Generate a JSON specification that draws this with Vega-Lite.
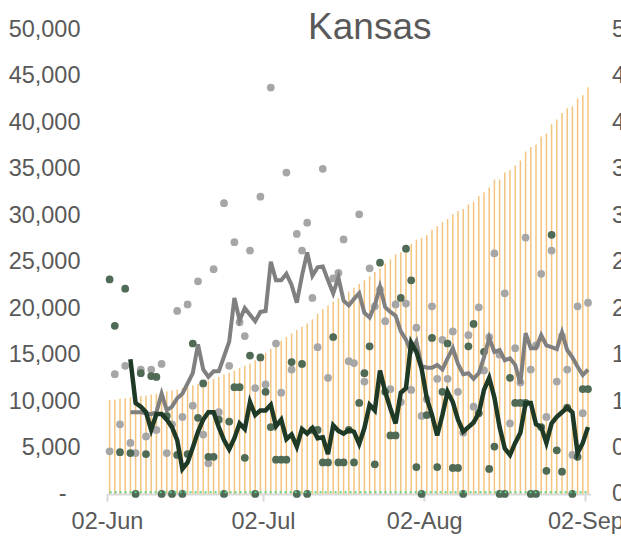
{
"$schema": "https://vega.github.io/schema/vega-lite/v6.json",
"width": 483.6,
"height": 464.5,
"autosize": {"type": "none"},
"padding": {"left": 107, "top": 29.5, "right": 40, "bottom": 43},
"background": "white",
"config": {"view": {"stroke": null}, "font": "Liberation Sans", "axis": {"labelFont": "Liberation Sans", "labelColor": "#595959", "labelFontSize": 23.5, "grid": false, "title": null}},
"title": {"text": "Kansas", "fontSize": 37, "font": "Liberation Sans", "fontWeight": "normal", "color": "#595959", "anchor": "middle", "frame": "group", "baseline": "alphabetic", "offset": 0, "dx": 21, "dy": 58},
"data": {"values": [
{"date":"2020-06-02","total":10100,"tests":4600,"tests_avg":null,"cases":23100,"cases_avg":null,"low":200},
{"date":"2020-06-03","total":10150,"tests":12900,"tests_avg":null,"cases":18100,"cases_avg":null,"low":200},
{"date":"2020-06-04","total":10250,"tests":7500,"tests_avg":null,"cases":4500,"cases_avg":null,"low":200},
{"date":"2020-06-05","total":10300,"tests":13800,"tests_avg":null,"cases":22100,"cases_avg":null,"low":200},
{"date":"2020-06-06","total":10400,"tests":5500,"tests_avg":8800,"cases":4400,"cases_avg":14500,"low":200},
{"date":"2020-06-07","total":10450,"tests":4400,"tests_avg":8800,"cases":0,"cases_avg":9800,"low":200},
{"date":"2020-06-08","total":10550,"tests":13400,"tests_avg":8800,"cases":13000,"cases_avg":9400,"low":200},
{"date":"2020-06-09","total":10600,"tests":6200,"tests_avg":8700,"cases":4300,"cases_avg":8800,"low":200},
{"date":"2020-06-10","total":10700,"tests":13400,"tests_avg":8600,"cases":12700,"cases_avg":6900,"low":200},
{"date":"2020-06-11","total":10800,"tests":6900,"tests_avg":8800,"cases":12600,"cases_avg":8600,"low":200},
{"date":"2020-06-12","total":10900,"tests":14000,"tests_avg":10800,"cases":0,"cases_avg":8600,"low":200},
{"date":"2020-06-13","total":11050,"tests":4400,"tests_avg":9000,"cases":8400,"cases_avg":8000,"low":200},
{"date":"2020-06-14","total":11150,"tests":7500,"tests_avg":9400,"cases":0,"cases_avg":7200,"low":200},
{"date":"2020-06-15","total":11250,"tests":19700,"tests_avg":10300,"cases":4200,"cases_avg":5800,"low":200},
{"date":"2020-06-16","total":11400,"tests":8300,"tests_avg":10800,"cases":0,"cases_avg":2700,"low":200},
{"date":"2020-06-17","total":11550,"tests":20400,"tests_avg":11900,"cases":4300,"cases_avg":3400,"low":200},
{"date":"2020-06-18","total":11700,"tests":9500,"tests_avg":13000,"cases":16200,"cases_avg":5000,"low":200},
{"date":"2020-06-19","total":11850,"tests":22900,"tests_avg":16100,"cases":8200,"cases_avg":6700,"low":200},
{"date":"2020-06-20","total":12000,"tests":6400,"tests_avg":13400,"cases":11900,"cases_avg":8000,"low":200},
{"date":"2020-06-21","total":12200,"tests":3300,"tests_avg":12600,"cases":4000,"cases_avg":8800,"low":200},
{"date":"2020-06-22","total":12400,"tests":24200,"tests_avg":13200,"cases":4000,"cases_avg":8800,"low":200},
{"date":"2020-06-23","total":12600,"tests":8800,"tests_avg":13200,"cases":8000,"cases_avg":7200,"low":200},
{"date":"2020-06-24","total":12850,"tests":31300,"tests_avg":14800,"cases":0,"cases_avg":5800,"low":200},
{"date":"2020-06-25","total":13050,"tests":13800,"tests_avg":16400,"cases":7800,"cases_avg":4800,"low":200},
{"date":"2020-06-26","total":13300,"tests":27100,"tests_avg":21100,"cases":11500,"cases_avg":6000,"low":200},
{"date":"2020-06-27","total":13550,"tests":18500,"tests_avg":18700,"cases":11500,"cases_avg":7600,"low":200},
{"date":"2020-06-28","total":13800,"tests":17000,"tests_avg":20000,"cases":3900,"cases_avg":7000,"low":200},
{"date":"2020-06-29","total":14050,"tests":26200,"tests_avg":19300,"cases":14900,"cases_avg":9900,"low":200},
{"date":"2020-06-30","total":14400,"tests":11400,"tests_avg":18600,"cases":0,"cases_avg":8500,"low":200},
{"date":"2020-07-01","total":14800,"tests":32000,"tests_avg":19600,"cases":14700,"cases_avg":9000,"low":200},
{"date":"2020-07-02","total":15200,"tests":11800,"tests_avg":19700,"cases":11000,"cases_avg":9000,"low":200},
{"date":"2020-07-03","total":15600,"tests":43750,"tests_avg":25000,"cases":7200,"cases_avg":9600,"low":200},
{"date":"2020-07-04","total":16000,"tests":16200,"tests_avg":23000,"cases":3700,"cases_avg":7300,"low":200},
{"date":"2020-07-05","total":16500,"tests":10900,"tests_avg":23000,"cases":3700,"cases_avg":8000,"low":200},
{"date":"2020-07-06","total":16900,"tests":34600,"tests_avg":23700,"cases":3700,"cases_avg":5900,"low":200},
{"date":"2020-07-07","total":17300,"tests":13400,"tests_avg":22500,"cases":14200,"cases_avg":6400,"low":200},
{"date":"2020-07-08","total":17650,"tests":28000,"tests_avg":20600,"cases":0,"cases_avg":5100,"low":200},
{"date":"2020-07-09","total":18000,"tests":26200,"tests_avg":23500,"cases":14000,"cases_avg":7000,"low":200},
{"date":"2020-07-10","total":18350,"tests":29200,"tests_avg":26000,"cases":0,"cases_avg":6500,"low":200},
{"date":"2020-07-11","total":18800,"tests":21100,"tests_avg":23500,"cases":6900,"cases_avg":7100,"low":200},
{"date":"2020-07-12","total":19400,"tests":15800,"tests_avg":24400,"cases":6900,"cases_avg":6000,"low":200},
{"date":"2020-07-13","total":19900,"tests":35000,"tests_avg":24500,"cases":3400,"cases_avg":6100,"low":200},
{"date":"2020-07-14","total":20300,"tests":12500,"tests_avg":23000,"cases":3400,"cases_avg":4300,"low":200},
{"date":"2020-07-15","total":20700,"tests":23200,"tests_avg":21600,"cases":16900,"cases_avg":7400,"low":200},
{"date":"2020-07-16","total":21100,"tests":23800,"tests_avg":23300,"cases":3400,"cases_avg":6800,"low":200},
{"date":"2020-07-17","total":21400,"tests":27400,"tests_avg":20800,"cases":3400,"cases_avg":6500,"low":200},
{"date":"2020-07-18","total":21800,"tests":14300,"tests_avg":20300,"cases":6900,"cases_avg":6900,"low":200},
{"date":"2020-07-19","total":22200,"tests":14100,"tests_avg":21000,"cases":3400,"cases_avg":6700,"low":200},
{"date":"2020-07-20","total":22600,"tests":30100,"tests_avg":21600,"cases":9800,"cases_avg":5400,"low":200},
{"date":"2020-07-21","total":23000,"tests":12100,"tests_avg":19500,"cases":13000,"cases_avg":7100,"low":200},
{"date":"2020-07-22","total":23450,"tests":24300,"tests_avg":19000,"cases":15900,"cases_avg":9600,"low":200},
{"date":"2020-07-23","total":23900,"tests":20200,"tests_avg":20300,"cases":3200,"cases_avg":9000,"low":200},
{"date":"2020-07-24","total":24300,"tests":22000,"tests_avg":22300,"cases":24900,"cases_avg":13300,"low":200},
{"date":"2020-07-25","total":24800,"tests":18600,"tests_avg":20100,"cases":11000,"cases_avg":11000,"low":200},
{"date":"2020-07-26","total":25260,"tests":11300,"tests_avg":19600,"cases":6300,"cases_avg":9200,"low":200},
{"date":"2020-07-27","total":25800,"tests":20400,"tests_avg":19200,"cases":6300,"cases_avg":7600,"low":200},
{"date":"2020-07-28","total":26020,"tests":9900,"tests_avg":17500,"cases":21100,"cases_avg":10900,"low":200},
{"date":"2020-07-29","total":26700,"tests":20500,"tests_avg":16600,"cases":26400,"cases_avg":11400,"low":200},
{"date":"2020-07-30","total":26950,"tests":11200,"tests_avg":15300,"cases":23000,"cases_avg":16300,"low":200},
{"date":"2020-07-31","total":27380,"tests":17900,"tests_avg":16400,"cases":2900,"cases_avg":15300,"low":200},
{"date":"2020-08-01","total":27590,"tests":8400,"tests_avg":13800,"cases":0,"cases_avg":13500,"low":200},
{"date":"2020-08-02","total":27880,"tests":10200,"tests_avg":13600,"cases":8500,"cases_avg":10300,"low":200},
{"date":"2020-08-03","total":28450,"tests":20200,"tests_avg":13600,"cases":16800,"cases_avg":8500,"low":200},
{"date":"2020-08-04","total":28810,"tests":12400,"tests_avg":13900,"cases":2900,"cases_avg":6300,"low":200},
{"date":"2020-08-05","total":29240,"tests":16600,"tests_avg":13400,"cases":11000,"cases_avg":8500,"low":200},
{"date":"2020-08-06","total":29600,"tests":12400,"tests_avg":14600,"cases":16200,"cases_avg":11000,"low":200},
{"date":"2020-08-07","total":30100,"tests":17500,"tests_avg":15700,"cases":2800,"cases_avg":9900,"low":200},
{"date":"2020-08-08","total":30460,"tests":11000,"tests_avg":14000,"cases":2800,"cases_avg":8000,"low":200},
{"date":"2020-08-09","total":30670,"tests":6600,"tests_avg":12900,"cases":0,"cases_avg":6700,"low":200},
{"date":"2020-08-10","total":31170,"tests":17100,"tests_avg":13000,"cases":15900,"cases_avg":7200,"low":200},
{"date":"2020-08-11","total":31460,"tests":9400,"tests_avg":12400,"cases":18300,"cases_avg":7700,"low":200},
{"date":"2020-08-12","total":32070,"tests":20100,"tests_avg":13000,"cases":8700,"cases_avg":8700,"low":200},
{"date":"2020-08-13","total":32470,"tests":13300,"tests_avg":14700,"cases":15300,"cases_avg":11200,"low":200},
{"date":"2020-08-14","total":33000,"tests":16900,"tests_avg":16800,"cases":2700,"cases_avg":12500,"low":200},
{"date":"2020-08-15","total":33860,"tests":25900,"tests_avg":15300,"cases":5100,"cases_avg":10400,"low":200},
{"date":"2020-08-16","total":33860,"tests":15000,"tests_avg":15500,"cases":0,"cases_avg":7200,"low":200},
{"date":"2020-08-17","total":34620,"tests":21600,"tests_avg":14400,"cases":0,"cases_avg":4900,"low":200},
{"date":"2020-08-18","total":34870,"tests":7600,"tests_avg":14600,"cases":12500,"cases_avg":4200,"low":200},
{"date":"2020-08-19","total":35370,"tests":15700,"tests_avg":13900,"cases":9800,"cases_avg":5500,"low":200},
{"date":"2020-08-20","total":35900,"tests":12000,"tests_avg":11900,"cases":9800,"cases_avg":6600,"low":200},
{"date":"2020-08-21","total":36870,"tests":27600,"tests_avg":17300,"cases":9800,"cases_avg":9800,"low":200},
{"date":"2020-08-22","total":37340,"tests":13400,"tests_avg":15700,"cases":0,"cases_avg":9800,"low":200},
{"date":"2020-08-23","total":37630,"tests":16000,"tests_avg":15700,"cases":0,"cases_avg":7500,"low":200},
{"date":"2020-08-24","total":38490,"tests":23700,"tests_avg":17100,"cases":7200,"cases_avg":7200,"low":200},
{"date":"2020-08-25","total":38810,"tests":8300,"tests_avg":16000,"cases":2500,"cases_avg":5500,"low":200},
{"date":"2020-08-26","total":39810,"tests":26200,"tests_avg":15800,"cases":27900,"cases_avg":7600,"low":200},
{"date":"2020-08-27","total":40310,"tests":12100,"tests_avg":15600,"cases":4700,"cases_avg":8300,"low":200},
{"date":"2020-08-28","total":41000,"tests":17000,"tests_avg":17400,"cases":2400,"cases_avg":8800,"low":200},
{"date":"2020-08-29","total":41530,"tests":13400,"tests_avg":15500,"cases":9300,"cases_avg":9300,"low":200},
{"date":"2020-08-30","total":41710,"tests":4200,"tests_avg":14700,"cases":0,"cases_avg":8800,"low":200},
{"date":"2020-08-31","total":42570,"tests":20200,"tests_avg":13700,"cases":4000,"cases_avg":4400,"low":200},
{"date":"2020-09-01","total":42930,"tests":8700,"tests_avg":12800,"cases":11300,"cases_avg":5500,"low":200},
{"date":"2020-09-02","total":43790,"tests":20600,"tests_avg":13400,"cases":11300,"cases_avg":7200,"low":200}
]},
"encoding": {
  "x": {"field": "date", "type": "temporal", "timeUnit": "utcyearmonthdate", "bandPosition": 0.5,
    "scale": {"type": "utc", "domain": [{"year": 2020, "month": 6, "date": 2, "utc": true}, {"year": 2020, "month": 9, "date": 3, "utc": true}]},
    "axis": {"values": [{"year": 2020, "month": 6, "date": 2, "utc": true}, {"year": 2020, "month": 7, "date": 2, "utc": true}, {"year": 2020, "month": 8, "date": 2, "utc": true}, {"year": 2020, "month": 9, "date": 2, "utc": true}],
      "format": "%d-%b", "domainColor": "#D9D9D9", "domainWidth": 2, "tickColor": "#D9D9D9", "tickWidth": 2, "tickSize": 7, "labelPadding": 9, "labelFlush": false, "labelOverlap": false}}
},
"layer": [
  {
    "layer": [
      {"mark": {"type": "rule", "color": "#F4C47E", "strokeWidth": 1.5},
       "encoding": {"y": {"field": "total", "type": "quantitative", "scale": {"domain": [0, 50000], "nice": false},
          "axis": {"orient": "left", "values": [0, 5000, 10000, 15000, 20000, 25000, 30000, 35000, 40000, 45000, 50000], "domain": false, "ticks": false, "labelPadding": {"condition": {"test": "datum.value == 0", "value": 41}, "value": 27}, "labelOverlap": false, "labelExpr": "datum.value == 0 ? '-' : format(datum.value, ',')"}},
         "y2": {"datum": 0}}},
      {"mark": {"type": "point", "filled": true, "size": 60, "color": "#A6A6A6", "opacity": 1},
       "encoding": {"y": {"field": "tests", "type": "quantitative"}}},
      {"mark": {"type": "point", "filled": true, "size": 60, "color": "#4F6A55", "opacity": 1},
       "encoding": {"y": {"field": "cases", "type": "quantitative"}}},
      {"mark": {"type": "line", "color": "#808080", "strokeWidth": 4},
       "encoding": {"y": {"field": "tests_avg", "type": "quantitative"}}},
      {"mark": {"type": "line", "color": "#1E3A26", "strokeWidth": 4.5},
       "encoding": {"y": {"field": "cases_avg", "type": "quantitative"}}}
    ]
  },
  {
    "mark": {"type": "line", "color": "#5FD38A", "strokeWidth": 2, "strokeDash": [2, 3]},
    "encoding": {"y": {"field": "low", "type": "quantitative", "scale": {"domain": [0, 50000], "nice": false},
      "axis": {"orient": "right", "values": [0, 5000, 10000, 15000, 20000, 25000, 30000, 35000, 40000, 45000, 50000], "domain": false, "ticks": false, "labelPadding": 21, "labelOverlap": false, "labelExpr": "format(datum.value / 1000000, '.1%')"}}}
  }
],
"resolve": {"scale": {"y": "independent"}, "axis": {"y": "independent"}}
}
